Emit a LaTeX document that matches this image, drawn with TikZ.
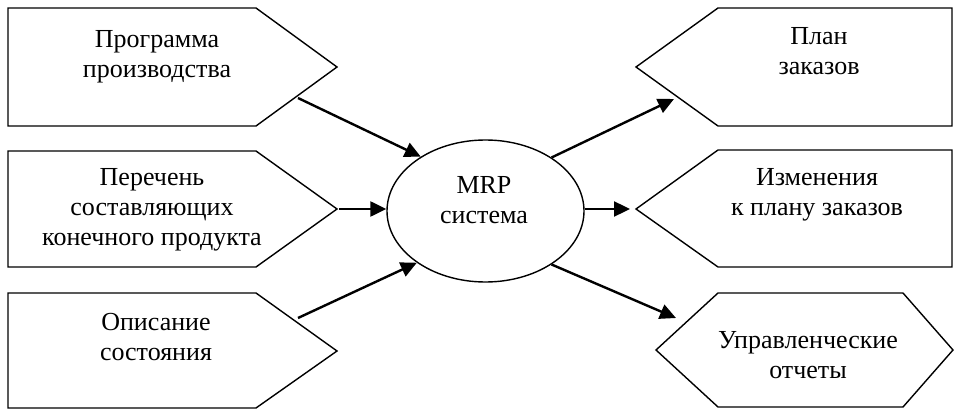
\documentclass[tikz,border=0pt]{standalone}
\usepackage{fontspec}
\setmainfont{Liberation Serif}
\usetikzlibrary{arrows.meta,shapes.geometric}
\begin{document}
\begin{tikzpicture}[x=1pt,y=-1pt,
  outline/.style={draw=black,line width=1.4pt,line join=miter},
  caption/.style={font=\fontsize{26}{30}\selectfont,align=center,anchor=base,inner sep=0pt},
  flow/.style={line width=2.4pt,-{Triangle[length=16pt,width=15pt]}}]
\useasboundingbox (0,0) rectangle (954,409);

% input blocks, pointing right
\draw[outline] (8,8)   -- (256,8)   -- (337,67)  -- (256,126) -- (8,126) -- cycle;
\draw[outline] (8,151) -- (256,151) -- (337,209) -- (256,267) -- (8,267) -- cycle;
\draw[outline] (8,293) -- (256,293) -- (337,351) -- (256,408) -- (8,408) -- cycle;

% output blocks
\draw[outline] (952,8)   -- (718,8)   -- (636,67)  -- (718,126) -- (952,126) -- cycle;
\draw[outline] (952,150) -- (718,150) -- (636,209) -- (718,267) -- (952,267) -- cycle;
\draw[outline] (718,293) -- (903,293) -- (953,350) -- (903,407) -- (718,407) -- (656,350) -- cycle;

% central system
\node[ellipse,outline,minimum width=197pt,minimum height=142pt,inner sep=0pt] (mrp) at (485.5,211) {};
% captions: the base anchor sits on the last line's baseline
\node[caption] (mrptext) at (484,223) {MRP\\система};

% block captions
\node[caption] (in1) at (157,78)  {Программа\\производства};
\node[caption] (in2) at (152,245) {Перечень\\составляющих\\конечного продукта};
\node[caption] (in3) at (156,360) {Описание\\состояния};
\node[caption] (out1) at (819,75)  {План\\заказов};
\node[caption] (out2) at (817,215) {Изменения\\к плану заказов};
\node[caption] (out3) at (808,378) {Управленческие\\отчеты};

% connector ends
\coordinate (s1) at (298,98);
\coordinate (s2) at (339,209);
\coordinate (s3) at (298,318);
\coordinate (e1) at (674,99);
\coordinate (e2) at (630,209);
\coordinate (e3) at (676,318);

% data flows
\draw[flow] (s1) -- (mrp.140);
\draw[flow] (s2) -- (s2 -| mrp.west);
\draw[flow] (s3) -- (mrp.217);
\draw[flow] (mrp.39) -- (e1);
\draw[flow] (mrp.east |- e2) -- (e2);
\draw[flow] (mrp.321) -- (e3);
\end{tikzpicture}
\end{document}
